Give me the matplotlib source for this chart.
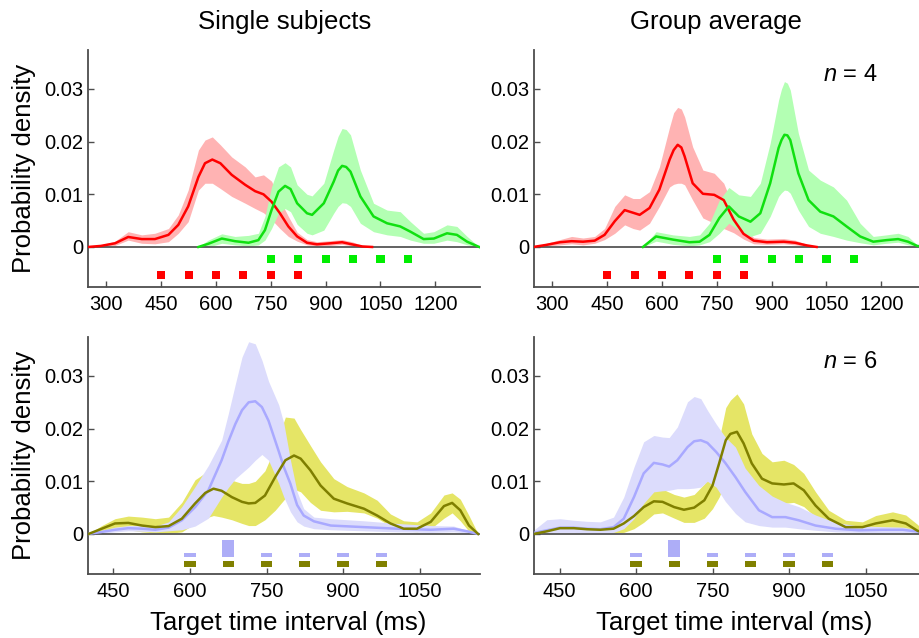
import matplotlib
matplotlib.use("Agg")
import matplotlib.pyplot as plt

plt.rcParams['font.family'] = ['Liberation Sans', 'DejaVu Sans']
plt.rcParams['mathtext.fontset'] = 'custom'
plt.rcParams['mathtext.it'] = 'Liberation Sans:italic'
plt.rcParams['mathtext.rm'] = 'Liberation Sans'

# ---------------- data ----------------
# Top-left (single subjects, set 1)
tl_red_x = [250, 285, 324, 360, 397, 433, 470, 497, 524, 552, 570, 590, 612, 643, 680, 707, 730, 752, 775, 798, 822, 849, 876, 913, 945, 972, 1000, 1027]
tl_red_mean = [0, 0.0002, 0.0007, 0.0019, 0.0015, 0.0015, 0.0023, 0.0042, 0.0077, 0.0133, 0.0159, 0.0166, 0.0159, 0.0137, 0.0118, 0.0106, 0.0100, 0.0086, 0.0064, 0.0039, 0.0020, 0.0008, 0.0005, 0.0007, 0.0009, 0.0005, 0.0001, 0]
tl_red_hi = [0, 0.0004, 0.0011, 0.0029, 0.0023, 0.0026, 0.0035, 0.0061, 0.0108, 0.0184, 0.0203, 0.0209, 0.0194, 0.0171, 0.0152, 0.0133, 0.0137, 0.0125, 0.0089, 0.0058, 0.0028, 0.0014, 0.0010, 0.0012, 0.0014, 0.0010, 0.0003, 0]
tl_red_lo = [0, 0.0001, 0.0003, 0.0013, 0.0007, 0.0006, 0.0010, 0.0026, 0.0048, 0.0108, 0.0121, 0.0121, 0.0111, 0.0096, 0.0083, 0.0073, 0.0065, 0.0052, 0.0035, 0.0020, 0.0011, 0.0004, 0.0002, 0.0003, 0.0005, 0.0002, 0, 0]

tl_grn_x = [552, 579, 616, 652, 689, 716, 734, 752, 771, 789, 804, 822, 849, 863, 895, 922, 934, 945, 956, 968, 995, 1031, 1068, 1104, 1132, 1168, 1196, 1232, 1259, 1287, 1320]
tl_grn_mean = [0, 0.0006, 0.0016, 0.0011, 0.0008, 0.0013, 0.0032, 0.0070, 0.0105, 0.0116, 0.0110, 0.0083, 0.0064, 0.0061, 0.0083, 0.0124, 0.0145, 0.0154, 0.0152, 0.0143, 0.0096, 0.0058, 0.0045, 0.0039, 0.0029, 0.0015, 0.0016, 0.0026, 0.0023, 0.0010, 0]
tl_grn_hi = [0, 0.0013, 0.0025, 0.0020, 0.0022, 0.0026, 0.0058, 0.0114, 0.0152, 0.0160, 0.0152, 0.0118, 0.0100, 0.0097, 0.0121, 0.0184, 0.0210, 0.0225, 0.0223, 0.0213, 0.0146, 0.0083, 0.0070, 0.0067, 0.0048, 0.0026, 0.0029, 0.0042, 0.0039, 0.0020, 0]
tl_grn_lo = [0, 0, 0.0007, 0.0004, 0.0002, 0.0004, 0.0013, 0.0035, 0.0064, 0.0073, 0.0067, 0.0043, 0.0026, 0.0023, 0.0032, 0.0064, 0.0077, 0.0084, 0.0083, 0.0077, 0.0045, 0.0029, 0.0023, 0.0020, 0.0013, 0.0007, 0.0007, 0.0013, 0.0010, 0.0004, 0]

# Top-right (group average, set 1)
tr_red_x = [248, 284, 321, 353, 384, 416, 443, 471, 498, 521, 539, 566, 593, 621, 632, 643, 653, 662, 684, 712, 743, 769, 796, 823, 851, 887, 933, 964, 996, 1023]
tr_red_mean = [0, 0.0004, 0.0009, 0.0011, 0.0010, 0.0012, 0.0023, 0.0049, 0.0070, 0.0065, 0.0061, 0.0074, 0.0109, 0.0166, 0.0184, 0.0194, 0.0189, 0.0172, 0.0121, 0.0101, 0.0099, 0.0089, 0.0052, 0.0025, 0.0012, 0.0009, 0.0010, 0.0008, 0.0003, 0]
tr_red_hi = [0, 0.0007, 0.0014, 0.0020, 0.0017, 0.0020, 0.0035, 0.0077, 0.0099, 0.0092, 0.0092, 0.0105, 0.0152, 0.0228, 0.0255, 0.0265, 0.0262, 0.0247, 0.0190, 0.0146, 0.0140, 0.0121, 0.0074, 0.0035, 0.0018, 0.0015, 0.0016, 0.0013, 0.0005, 0]
tr_red_lo = [0, 0.0002, 0.0004, 0.0006, 0.0004, 0.0007, 0.0014, 0.0026, 0.0042, 0.0035, 0.0032, 0.0045, 0.0077, 0.0114, 0.0119, 0.0121, 0.0121, 0.0118, 0.0089, 0.0055, 0.0045, 0.0035, 0.0027, 0.0015, 0.0006, 0.0005, 0.0006, 0.0004, 0.0001, 0]

tr_grn_x = [548, 584, 630, 675, 703, 730, 757, 783, 810, 842, 869, 896, 919, 927, 935, 943, 951, 973, 1001, 1033, 1069, 1105, 1142, 1178, 1214, 1246, 1273, 1298, 1320]
tr_grn_mean = [0, 0.0020, 0.0014, 0.0009, 0.0010, 0.0023, 0.0055, 0.0077, 0.0058, 0.0048, 0.0064, 0.0121, 0.0188, 0.0203, 0.0213, 0.0212, 0.0203, 0.0140, 0.0089, 0.0067, 0.0058, 0.0039, 0.0020, 0.0010, 0.0013, 0.0015, 0.0010, 0.0002, 0]
tr_grn_hi = [0, 0.0029, 0.0023, 0.0020, 0.0023, 0.0045, 0.0089, 0.0113, 0.0099, 0.0096, 0.0121, 0.0197, 0.0279, 0.0300, 0.0314, 0.0311, 0.0298, 0.0216, 0.0146, 0.0127, 0.0114, 0.0089, 0.0045, 0.0020, 0.0023, 0.0026, 0.0020, 0.0004, 0]
tr_grn_lo = [0, 0.0011, 0.0005, 0.0002, 0.0004, 0.0010, 0.0026, 0.0045, 0.0032, 0.0020, 0.0026, 0.0058, 0.0096, 0.0103, 0.0108, 0.0107, 0.0102, 0.0070, 0.0039, 0.0026, 0.0020, 0.0013, 0.0008, 0.0004, 0.0007, 0.0009, 0.0004, 0.0001, 0]

# Bottom-left (single subjects, set 2)
bl_lav_x = [401, 427, 453, 479, 506, 532, 558, 584, 610, 636, 662, 675, 689, 702, 715, 728, 741, 754, 774, 784, 797, 810, 823, 843, 876, 941, 1006, 1072, 1117, 1144, 1165]
bl_lav_mean = [0, 0.0004, 0.0008, 0.0011, 0.0010, 0.0008, 0.0012, 0.0026, 0.0051, 0.0083, 0.0140, 0.0175, 0.0209, 0.0235, 0.0250, 0.0252, 0.0241, 0.0215, 0.0157, 0.0127, 0.0095, 0.0055, 0.0035, 0.0024, 0.0016, 0.0013, 0.0010, 0.0008, 0.0010, 0.0005, 0]
bl_lav_hi = [0, 0.0007, 0.0013, 0.0016, 0.0016, 0.0015, 0.0023, 0.0052, 0.0090, 0.0130, 0.0178, 0.0228, 0.0285, 0.0336, 0.0365, 0.0361, 0.0330, 0.0290, 0.0245, 0.0210, 0.0140, 0.0080, 0.0048, 0.0032, 0.0029, 0.0025, 0.0020, 0.0016, 0.0015, 0.0007, 0]
bl_lav_lo = [0, 0.0001, 0.0004, 0.0006, 0.0005, 0.0004, 0.0006, 0.0008, 0.0015, 0.0030, 0.0070, 0.0088, 0.0105, 0.0116, 0.0127, 0.0140, 0.0151, 0.0140, 0.0096, 0.0070, 0.0042, 0.0023, 0.0015, 0.0010, 0.0008, 0.0006, 0.0004, 0.0003, 0.0004, 0.0002, 0]

bl_olv_x = [401, 427, 453, 479, 506, 532, 558, 584, 610, 630, 646, 662, 682, 702, 715, 728, 747, 767, 787, 804, 817, 836, 856, 882, 908, 941, 967, 993, 1019, 1045, 1072, 1098, 1114, 1130, 1147, 1165]
bl_olv_mean = [0, 0.0010, 0.0020, 0.0021, 0.0016, 0.0013, 0.0015, 0.0029, 0.0058, 0.0078, 0.0086, 0.0082, 0.0070, 0.0061, 0.0058, 0.0059, 0.0073, 0.0108, 0.0140, 0.0149, 0.0143, 0.0121, 0.0092, 0.0067, 0.0058, 0.0048, 0.0035, 0.0020, 0.0010, 0.0010, 0.0023, 0.0053, 0.0059, 0.0045, 0.0016, 0]
bl_olv_hi = [0, 0.0016, 0.0029, 0.0034, 0.0032, 0.0029, 0.0032, 0.0060, 0.0103, 0.0116, 0.0118, 0.0112, 0.0102, 0.0096, 0.0096, 0.0100, 0.0120, 0.0165, 0.0222, 0.0220, 0.0198, 0.0168, 0.0137, 0.0105, 0.0090, 0.0078, 0.0064, 0.0038, 0.0025, 0.0023, 0.0040, 0.0074, 0.0078, 0.0066, 0.0035, 0]
bl_olv_lo = [0, 0.0004, 0.0010, 0.0008, 0.0004, 0.0002, 0.0001, 0.0004, 0.0020, 0.0030, 0.0035, 0.0032, 0.0027, 0.0020, 0.0016, 0.0016, 0.0027, 0.0045, 0.0068, 0.0085, 0.0080, 0.0060, 0.0045, 0.0042, 0.0043, 0.0040, 0.0030, 0.0015, 0.0006, 0.0004, 0.0010, 0.0030, 0.0040, 0.0025, 0.0005, 0]

# Bottom-right (group average, set 2)
br_lav_x = [399, 425, 451, 478, 504, 530, 556, 576, 596, 615, 635, 652, 665, 681, 701, 714, 727, 740, 757, 775, 795, 814, 841, 867, 893, 919, 952, 991, 1037, 1083, 1123, 1157, 1170]
br_lav_mean = [0.0002, 0.0007, 0.0012, 0.0012, 0.0010, 0.0009, 0.0013, 0.0029, 0.0070, 0.0115, 0.0135, 0.0132, 0.0128, 0.0140, 0.0165, 0.0176, 0.0178, 0.0173, 0.0156, 0.0135, 0.0108, 0.0080, 0.0045, 0.0032, 0.0032, 0.0026, 0.0016, 0.0010, 0.0007, 0.0008, 0.0008, 0.0004, 0.0001]
br_lav_hi = [0.0007, 0.0027, 0.0029, 0.0026, 0.0024, 0.0023, 0.0032, 0.0070, 0.0127, 0.0175, 0.0187, 0.0184, 0.0183, 0.0203, 0.0251, 0.0261, 0.0257, 0.0235, 0.0209, 0.0184, 0.0165, 0.0125, 0.0092, 0.0072, 0.0060, 0.0052, 0.0036, 0.0022, 0.0015, 0.0014, 0.0013, 0.0007, 0.0002]
br_lav_lo = [0, 0.0002, 0.0003, 0.0003, 0.0002, 0.0002, 0.0003, 0.0010, 0.0029, 0.0058, 0.0080, 0.0082, 0.0083, 0.0086, 0.0086, 0.0087, 0.0089, 0.0100, 0.0089, 0.0062, 0.0039, 0.0023, 0.0016, 0.0013, 0.0013, 0.0010, 0.0007, 0.0004, 0.0003, 0.0002, 0.0002, 0.0001, 0]

br_olv_x = [399, 425, 451, 478, 504, 530, 556, 576, 596, 615, 635, 652, 675, 694, 714, 734, 750, 763, 776, 785, 798, 811, 827, 847, 867, 890, 909, 929, 952, 978, 1011, 1044, 1070, 1103, 1129, 1152, 1170]
br_olv_mean = [0, 0.0005, 0.0011, 0.0011, 0.0009, 0.0008, 0.0010, 0.0020, 0.0034, 0.0051, 0.0062, 0.0061, 0.0051, 0.0046, 0.0050, 0.0064, 0.0092, 0.0134, 0.0178, 0.0190, 0.0194, 0.0172, 0.0134, 0.0105, 0.0096, 0.0094, 0.0096, 0.0083, 0.0054, 0.0029, 0.0013, 0.0013, 0.0020, 0.0026, 0.0020, 0.0006, 0]
br_olv_hi = [0, 0.0007, 0.0013, 0.0013, 0.0011, 0.0010, 0.0012, 0.0025, 0.0045, 0.0068, 0.0085, 0.0085, 0.0075, 0.0070, 0.0075, 0.0095, 0.0125, 0.0180, 0.0240, 0.0254, 0.0266, 0.0247, 0.0190, 0.0153, 0.0137, 0.0140, 0.0132, 0.0115, 0.0080, 0.0045, 0.0026, 0.0023, 0.0035, 0.0042, 0.0036, 0.0018, 0]
br_olv_lo = [0, 0.0002, 0.0006, 0.0006, 0.0004, 0.0003, 0.0002, 0.0003, 0.0010, 0.0022, 0.0038, 0.0040, 0.0030, 0.0022, 0.0022, 0.0030, 0.0048, 0.0070, 0.0100, 0.0120, 0.0125, 0.0105, 0.0085, 0.0068, 0.0060, 0.0058, 0.0060, 0.0052, 0.0032, 0.0015, 0.0005, 0.0005, 0.0008, 0.0012, 0.0008, 0.0002, 0]

# target intervals
green_targets = [750, 825, 900, 975, 1050, 1125]
red_targets = [450, 525, 600, 675, 750, 825]
set2_targets = [600, 675, 750, 825, 900, 975]
set2_emphasized = [675]

top_xticks = [300, 450, 600, 750, 900, 1050, 1200]
bottom_xticks = [450, 600, 750, 900, 1050]
yticks = [0, 0.01, 0.02, 0.03]
ytick_labels = ['0', '0.01', '0.02', '0.03']

# ---------------- styles ----------------
RED, RED_F = '#ff0000', '#ffb3b3'
GRN, GRN_F = '#10e010', '#b3ffb3'
LAV, LAV_F = '#a9a9ff', '#dcdcfc'
OLV, OLV_F = '#7f7f00', '#e5e566'
AX_C = '#4d4d4d'

W, H = 919, 638
fig = plt.figure(figsize=(W / 100, H / 100), dpi=100)

def make_ax(left_px, top_px, xlim, xticks):
    ax = fig.add_axes([left_px / W, 1 - (top_px + 237) / H, 392 / W, 237 / H])
    ax.set_xlim(*xlim)
    ax.set_ylim(-0.0076, 0.0374)
    for s in ['top', 'right']:
        ax.spines[s].set_visible(False)
    for s in ['left', 'bottom']:
        ax.spines[s].set_color(AX_C)
        ax.spines[s].set_linewidth(1.3)
    ax.axhline(0, color='#555555', lw=1.3, zorder=1.5)
    ax.set_xticks(xticks)
    ax.set_yticks(yticks)
    ax.set_yticklabels(ytick_labels)
    ax.tick_params(direction='in', length=4, width=1, colors=AX_C, labelcolor='black', labelsize=14.5)
    ax.tick_params(axis='y', pad=3.5)
    ax.tick_params(axis='x', pad=6)
    return ax

def band(ax, x, lo, hi, mean, fc, lc, zf, zl):
    ax.fill_between(x, lo, hi, color=fc, lw=0, zorder=zf)
    ax.plot(x, mean, color=lc, lw=1.8, zorder=zl, solid_joinstyle='round')

top_xlim = (250, 250 + 392 / 0.3656)
bot_xlim = (400, 400 + 392 / 0.51)

ax_tl = make_ax(88, 50, top_xlim, top_xticks)
ax_tr = make_ax(534, 50, top_xlim, top_xticks)
ax_bl = make_ax(88, 337, bot_xlim, bottom_xticks)
ax_br = make_ax(534, 337, bot_xlim, bottom_xticks)

band(ax_tl, tl_red_x, tl_red_lo, tl_red_hi, tl_red_mean, RED_F, RED, 1, 3)
band(ax_tl, tl_grn_x, tl_grn_lo, tl_grn_hi, tl_grn_mean, GRN_F, GRN, 1.1, 3.1)
band(ax_tr, tr_red_x, tr_red_lo, tr_red_hi, tr_red_mean, RED_F, RED, 1, 3)
band(ax_tr, tr_grn_x, tr_grn_lo, tr_grn_hi, tr_grn_mean, GRN_F, GRN, 1.1, 3.1)

band(ax_bl, bl_olv_x, bl_olv_lo, bl_olv_hi, bl_olv_mean, OLV_F, OLV, 1, 3.1)
band(ax_bl, bl_lav_x, bl_lav_lo, bl_lav_hi, bl_lav_mean, LAV_F, LAV, 1.1, 3)
band(ax_br, br_olv_x, br_olv_lo, br_olv_hi, br_olv_mean, OLV_F, OLV, 1, 3.1)
band(ax_br, br_lav_x, br_lav_lo, br_lav_hi, br_lav_mean, LAV_F, LAV, 1.1, 3)

for ax in (ax_tl, ax_tr):
    ax.bar(green_targets, 0.00155, width=22, bottom=-0.0031, color='#00ee00', lw=0, zorder=4)
    ax.bar(red_targets, 0.00155, width=22, bottom=-0.0061, color='#ff0000', lw=0, zorder=4)

for ax in (ax_bl, ax_br):
    ax.bar(set2_targets, 0.0007, width=22, bottom=-0.0044, color='#adadf7', lw=0, zorder=4)
    ax.bar(set2_targets, 0.0011, width=22, bottom=-0.0063, color='#808000', lw=0, zorder=4)
    ax.bar(set2_emphasized, 0.0032, width=23, bottom=-0.0044, color='#adadf7', lw=0, zorder=4)

# texts
fig.text(285 / W, 1 - 22 / H, 'Single subjects', ha='center', va='center', fontsize=18.5)
fig.text(716 / W, 1 - 22 / H, 'Group average', ha='center', va='center', fontsize=18.5)
fig.text(24 / W, 1 - 168.5 / H, 'Probability density', ha='center', va='center', rotation=90, fontsize=18.5)
fig.text(24 / W, 1 - 455.5 / H, 'Probability density', ha='center', va='center', rotation=90, fontsize=18.5)
fig.text(288 / W, 1 - 623 / H, 'Target time interval (ms)', ha='center', va='center', fontsize=18.5)
fig.text(734 / W, 1 - 623 / H, 'Target time interval (ms)', ha='center', va='center', fontsize=18.5)
fig.text(850 / W, 1 - 75 / H, r'$n$ = 4', ha='center', va='center', fontsize=17)
fig.text(850 / W, 1 - 362 / H, r'$n$ = 6', ha='center', va='center', fontsize=17)

fig.savefig('out.png', dpi=100)
